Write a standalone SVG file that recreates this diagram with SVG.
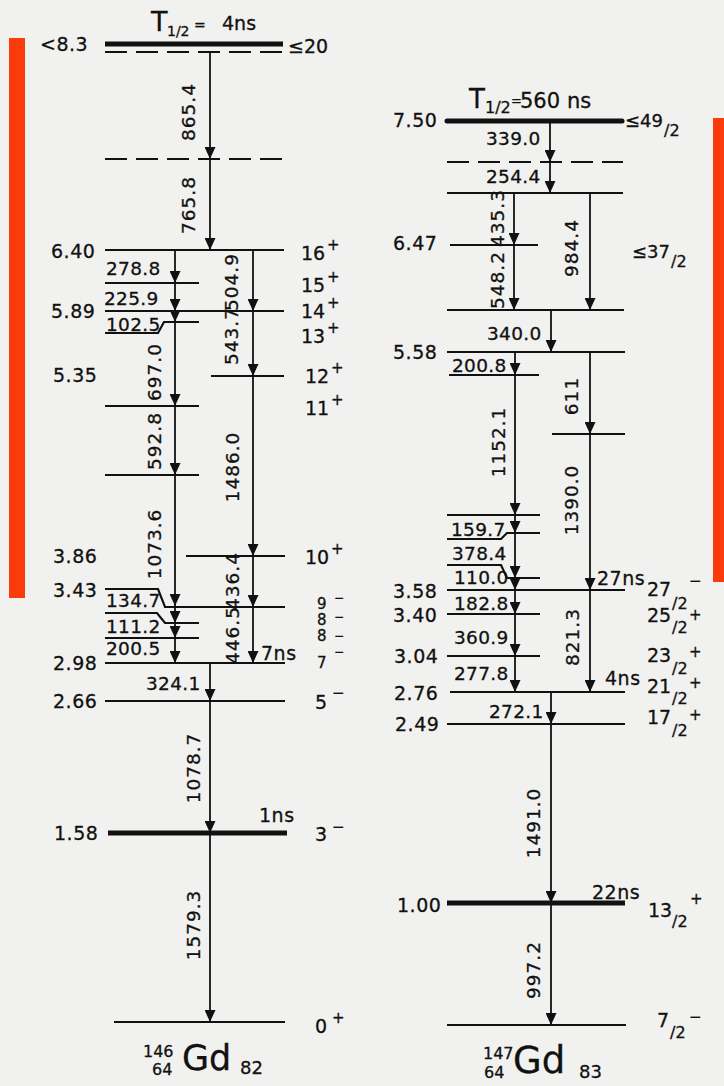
<svg xmlns="http://www.w3.org/2000/svg" width="724" height="1086" viewBox="0 0 724 1086">
<style>
text{font-family:"DejaVu Sans","Liberation Sans",sans-serif;fill:#111;stroke:#111;stroke-width:0.3}
.lv{stroke:#111;stroke-width:2.2;fill:none}
.th{stroke-width:5}
.ds{stroke-dasharray:22 9}
.e{font-size:19px;letter-spacing:0.5px}
.gl{font-size:18.5px;letter-spacing:0.3px}
.r{text-anchor:middle;dominant-baseline:central;letter-spacing:1px}
.sp{font-size:19px}
.sg{font-size:15px}
.sm{font-size:12px}
.fr{font-size:16px}
.st{font-size:15px}
#conn line{stroke:#111;stroke-width:1.8;marker-end:url(#ah)}
.bar{fill:#fa3c0c}
</style>
<defs>
<marker id="ah" markerWidth="12" markerHeight="11" refX="12" refY="5.5" orient="auto" markerUnits="userSpaceOnUse"><path d="M0,0 L12,5.5 L0,11 z" fill="#111"/></marker>
</defs>
<rect width="724" height="1086" fill="#f1f1ef"/>
<rect class="bar" x="9" y="38" width="16" height="560"/>
<rect class="bar" x="713" y="118" width="11" height="464"/>

<!-- 146Gd levels -->
<g id="gd146-title">
<text x="151" y="31" font-size="27">T</text>
<text x="167" y="36" font-size="14">1/2</text>
<text x="194" y="30" font-size="14">=</text>
<text x="222" y="30" font-size="19">4ns</text>
</g>
<g id="L146-top"><line class="lv th" x1="105" y1="44" x2="283" y2="44"/><line class="lv ds" x1="105" y1="52" x2="284" y2="52" stroke-width="2.5"/><text class="e" x="40" y="51">&lt;8.3</text><text class="sp" x="288" y="53">≤20</text></g>
<g id="L146-dash"><line class="lv ds" x1="105" y1="159" x2="283" y2="159" stroke-dasharray="24 10"/></g>
<g id="L146-16"><line class="lv" x1="105" y1="250" x2="284" y2="250"/><text class="e" x="51" y="258">6.40</text><text class="sp" x="301" y="260">16</text><text class="sg" x="327" y="250">+</text></g>
<g id="L146-15"><line class="lv" x1="105" y1="283" x2="199" y2="283"/><text class="sp" x="301" y="292">15</text><text class="sg" x="327" y="282">+</text></g>
<g id="L146-14"><line class="lv" x1="105" y1="311" x2="284" y2="311"/><text class="e" x="51" y="318">5.89</text><text class="sp" x="301" y="318">14</text><text class="sg" x="327" y="308">+</text></g>
<g id="L146-13"><polyline class="lv" points="105,333 158,333 164,322 199,322"/><text class="sp" x="301" y="343">13</text><text class="sg" x="327" y="333">+</text></g>
<g id="L146-12"><line class="lv" x1="211" y1="376" x2="284" y2="376"/><text class="e" x="53" y="382">5.35</text><text class="sp" x="305" y="383">12</text><text class="sg" x="331" y="373">+</text></g>
<g id="L146-11"><line class="lv" x1="105" y1="406" x2="199" y2="406"/><text class="sp" x="305" y="415">11</text><text class="sg" x="331" y="405">+</text></g>
<g id="L146-475"><line class="lv" x1="105" y1="475" x2="199" y2="475"/></g>
<g id="L146-10"><line class="lv" x1="186" y1="556" x2="285" y2="556"/><text class="e" x="53" y="563">3.86</text><text class="sp" x="305" y="564">10</text><text class="sg" x="331" y="554">+</text></g>
<g id="L146-9"><polyline class="lv" points="105,589 158,589 165,607 285,607"/><text class="e" x="53" y="597">3.43</text><text class="st" x="317" y="609">9</text><text class="sm" x="334" y="602">−</text></g>
<g id="L146-8a"><polyline class="lv" points="105,613 157,613 165,623 199,623"/><text class="st" x="317" y="625">8</text><text class="sm" x="334" y="621">−</text></g>
<g id="L146-8b"><line class="lv" x1="105" y1="638" x2="199" y2="638"/><text class="st" x="317" y="641">8</text><text class="sm" x="334" y="640">−</text></g>
<g id="L146-7"><line class="lv" x1="105" y1="663" x2="285" y2="663" stroke-width="4.5"/><text class="e" x="53" y="670">2.98</text><text class="st" x="317" y="668">7</text><text class="sm" x="334" y="656">−</text><text class="e" x="261" y="660">7ns</text></g>
<g id="L146-5"><line class="lv" x1="105" y1="701" x2="285" y2="701"/><text class="e" x="53" y="708">2.66</text><text class="sp" x="315" y="709">5</text><text class="sg" x="332" y="698">−</text></g>
<g id="L146-3"><line class="lv th" x1="108" y1="833" x2="287" y2="833"/><text class="e" x="54" y="840">1.58</text><text class="sp" x="315" y="841">3</text><text class="sg" x="332" y="832">−</text><text class="e" x="259" y="822">1ns</text></g>
<g id="L146-0"><line class="lv" x1="114" y1="1022" x2="285" y2="1022" stroke-width="5.5"/><text class="sp" x="315" y="1033">0</text><text class="sg" x="332" y="1023">+</text></g>
<g id="gd146-name"><text x="143" y="1057" font-size="16">146</text><text x="152" y="1075" font-size="16">64</text><text x="182" y="1070" font-size="35">Gd</text><text x="240" y="1074" font-size="18">82</text></g>

<!-- 147Gd levels -->
<g id="gd147-title">
<text x="469" y="108" font-size="26">T</text>
<text x="485" y="113" font-size="16">1/2</text>
<text x="511" y="105" font-size="13">=</text>
<text x="520" y="108" font-size="21">560</text>
<text x="567" y="108" font-size="21">ns</text>
</g>
<g id="L147-750"><line class="lv th" x1="447" y1="121" x2="622" y2="121" stroke-linecap="round"/><text class="e" x="393" y="127">7.50</text><text font-size="18" x="625" y="127">≤49</text><text class="fr" x="664" y="136">/2</text></g>
<g id="L147-dash"><line class="lv ds" x1="447" y1="162" x2="623" y2="162" stroke-dasharray="20 9"/></g>
<g id="L147-193"><line class="lv" x1="447" y1="193" x2="623" y2="193"/></g>
<g id="L147-647"><line class="lv" x1="450" y1="245" x2="538" y2="245"/><text class="e" x="393" y="250">6.47</text><text font-size="18" x="632" y="258">≤37</text><text class="fr" x="671" y="267">/2</text></g>
<g id="L147-310"><line class="lv" x1="447" y1="310" x2="624" y2="310"/></g>
<g id="L147-558"><line class="lv" x1="447" y1="352" x2="625" y2="352"/><text class="e" x="393" y="359">5.58</text></g>
<g id="L147-375"><line class="lv" x1="449" y1="375" x2="539" y2="375"/></g>
<g id="L147-434"><line class="lv" x1="552" y1="434" x2="625" y2="434"/></g>
<g id="L147-515"><line class="lv" x1="447" y1="515" x2="540" y2="515"/></g>
<g id="L147-533"><polyline class="lv" points="447,539 501,539 507,533 540,533"/></g>
<g id="L147-578"><polyline class="lv" points="447,565 501,565 507,578 540,578"/></g>
<g id="L147-358"><line class="lv" x1="447" y1="590" x2="625" y2="590" stroke-width="4.5"/><text class="e" x="393" y="598">3.58</text><text class="e" x="597" y="585">27ns</text><text class="sp" x="647" y="596">27</text><text class="fr" x="672" y="609">/2</text><text class="sg" x="689" y="586">−</text></g>
<g id="L147-340"><line class="lv" x1="447" y1="614" x2="540" y2="614"/><text class="e" x="393" y="622">3.40</text><text class="sp" x="647" y="622">25</text><text class="fr" x="672" y="633">/2</text><text class="sg" x="689" y="620">+</text></g>
<g id="L147-304"><line class="lv" x1="447" y1="656" x2="540" y2="656"/><text class="e" x="394" y="663">3.04</text><text class="sp" x="647" y="662">23</text><text class="fr" x="672" y="674">/2</text><text class="sg" x="689" y="657">+</text></g>
<g id="L147-276"><line class="lv" x1="450" y1="692" x2="625" y2="692" stroke-width="4.5"/><text class="e" x="394" y="700">2.76</text><text class="e" x="605" y="685">4ns</text><text class="sp" x="647" y="693">21</text><text class="fr" x="672" y="704">/2</text><text class="sg" x="689" y="688">+</text></g>
<g id="L147-249"><line class="lv" x1="447" y1="724" x2="625" y2="724"/><text class="e" x="395" y="731">2.49</text><text class="sp" x="647" y="724">17</text><text class="fr" x="672" y="736">/2</text><text class="sg" x="689" y="720">+</text></g>
<g id="L147-100"><line class="lv th" x1="447" y1="903" x2="625" y2="903"/><text class="e" x="397" y="912">1.00</text><text class="e" x="592" y="899">22ns</text><text class="sp" x="648" y="917">13</text><text class="fr" x="672" y="927">/2</text><text class="sg" x="690" y="904">+</text></g>
<g id="L147-0"><line class="lv" x1="447" y1="1025" x2="626" y2="1025" stroke-width="5.5"/><text class="sp" x="657" y="1027">7</text><text class="fr" x="670" y="1038">/2</text><text class="sg" x="689" y="1022">−</text></g>
<g id="gd147-name"><text x="483" y="1059" font-size="16">147</text><text x="484" y="1078" font-size="16">64</text><text x="513" y="1073" font-size="37">Gd</text><text x="579" y="1078" font-size="18">83</text></g>

<!-- connectors -->
<g id="conn">
<line x1="210" y1="52" x2="210" y2="159"/>
<line x1="210" y1="159" x2="210" y2="250"/>
<line x1="175" y1="250" x2="175" y2="283"/>
<line x1="253" y1="250" x2="253" y2="311"/>
<line x1="175" y1="283" x2="175" y2="311"/>
<line x1="175" y1="311" x2="175" y2="322"/>
<line x1="175" y1="322" x2="175" y2="406"/>
<line x1="253" y1="311" x2="253" y2="376"/>
<line x1="175" y1="406" x2="175" y2="475"/>
<line x1="253" y1="376" x2="253" y2="556"/>
<line x1="175" y1="475" x2="175" y2="606"/>
<line x1="253" y1="556" x2="253" y2="607"/>
<line x1="175" y1="607" x2="175" y2="623"/>
<line x1="175" y1="623" x2="175" y2="638"/>
<line x1="175" y1="638" x2="175" y2="663"/>
<line x1="253" y1="607" x2="253" y2="663"/>
<line x1="210" y1="663" x2="210" y2="701"/>
<line x1="210" y1="701" x2="210" y2="833"/>
<line x1="210" y1="833" x2="210" y2="1022"/>

<line x1="550" y1="121" x2="550" y2="162"/>
<line x1="550" y1="162" x2="550" y2="193"/>
<line x1="514" y1="193" x2="514" y2="245"/>
<line x1="590" y1="193" x2="590" y2="310"/>
<line x1="514" y1="245" x2="514" y2="310"/>
<line x1="551" y1="310" x2="551" y2="352"/>
<line x1="515" y1="352" x2="515" y2="375"/>
<line x1="590" y1="352" x2="590" y2="434"/>
<line x1="515" y1="375" x2="515" y2="515"/>
<line x1="590" y1="434" x2="590" y2="590"/>
<line x1="515" y1="515" x2="515" y2="533"/>
<line x1="515" y1="533" x2="515" y2="578"/>
<line x1="515" y1="578" x2="515" y2="590"/>
<line x1="515" y1="590" x2="515" y2="614"/>
<line x1="515" y1="614" x2="515" y2="656"/>
<line x1="515" y1="656" x2="515" y2="692"/>
<line x1="590" y1="590" x2="590" y2="692"/>
<line x1="551" y1="692" x2="551" y2="724"/>
<line x1="551" y1="724" x2="551" y2="903"/>
<line x1="551" y1="903" x2="551" y2="1025"/>
</g>

<!-- transition labels -->
<g id="gamma-labels">
<text class="gl r" transform="translate(188,112) rotate(-90)">865.4</text>
<text class="gl r" transform="translate(188,205) rotate(-90)">765.8</text>
<text class="gl" x="106" y="275">278.8</text>
<text class="gl r" transform="translate(231,282) rotate(-90)">504.9</text>
<text class="gl" x="104" y="305">225.9</text>
<text class="gl" x="106" y="331">102.5</text>
<text class="gl r" transform="translate(231,336) rotate(-90)">543.7</text>
<text class="gl r" transform="translate(154,372) rotate(-90)">697.0</text>
<text class="gl r" transform="translate(154,441) rotate(-90)">592.8</text>
<text class="gl r" transform="translate(232,467) rotate(-90)">1486.0</text>
<text class="gl r" transform="translate(154,544) rotate(-90)">1073.6</text>
<text class="gl r" transform="translate(232,581) rotate(-90)">436.4</text>
<text class="gl" x="106" y="607">134.7</text>
<text class="gl" x="106" y="633">111.2</text>
<text class="gl" x="106" y="655">200.5</text>
<text class="gl r" transform="translate(232,635) rotate(-90)">446.5</text>
<text class="gl" x="146" y="690">324.1</text>
<text class="gl r" transform="translate(193,768) rotate(-90)">1078.7</text>
<text class="gl r" transform="translate(193,925) rotate(-90)">1579.3</text>

<text class="gl" x="486" y="145">339.0</text>
<text class="gl" x="486" y="183">254.4</text>
<text class="gl r" transform="translate(497,218) rotate(-90)">435.3</text>
<text class="gl r" transform="translate(571,248) rotate(-90)">984.4</text>
<text class="gl r" transform="translate(497,280) rotate(-90)">548.2</text>
<text class="gl" x="487" y="340">340.0</text>
<text class="gl" x="452" y="372">200.8</text>
<text class="gl r" transform="translate(571,396) rotate(-90)">611</text>
<text class="gl r" transform="translate(498,442) rotate(-90)">1152.1</text>
<text class="gl r" transform="translate(571,500) rotate(-90)">1390.0</text>
<text class="gl" x="451" y="536">159.7</text>
<text class="gl" x="452" y="560">378.4</text>
<text class="gl" x="454" y="584">110.0</text>
<text class="gl" x="454" y="610">182.8</text>
<text class="gl" x="454" y="644">360.9</text>
<text class="gl" x="454" y="680">277.8</text>
<text class="gl r" transform="translate(572,637) rotate(-90)">821.3</text>
<text class="gl" x="489" y="718">272.1</text>
<text class="gl r" transform="translate(533,823) rotate(-90)">1491.0</text>
<text class="gl r" transform="translate(533,970) rotate(-90)">997.2</text>
</g>
</svg>
